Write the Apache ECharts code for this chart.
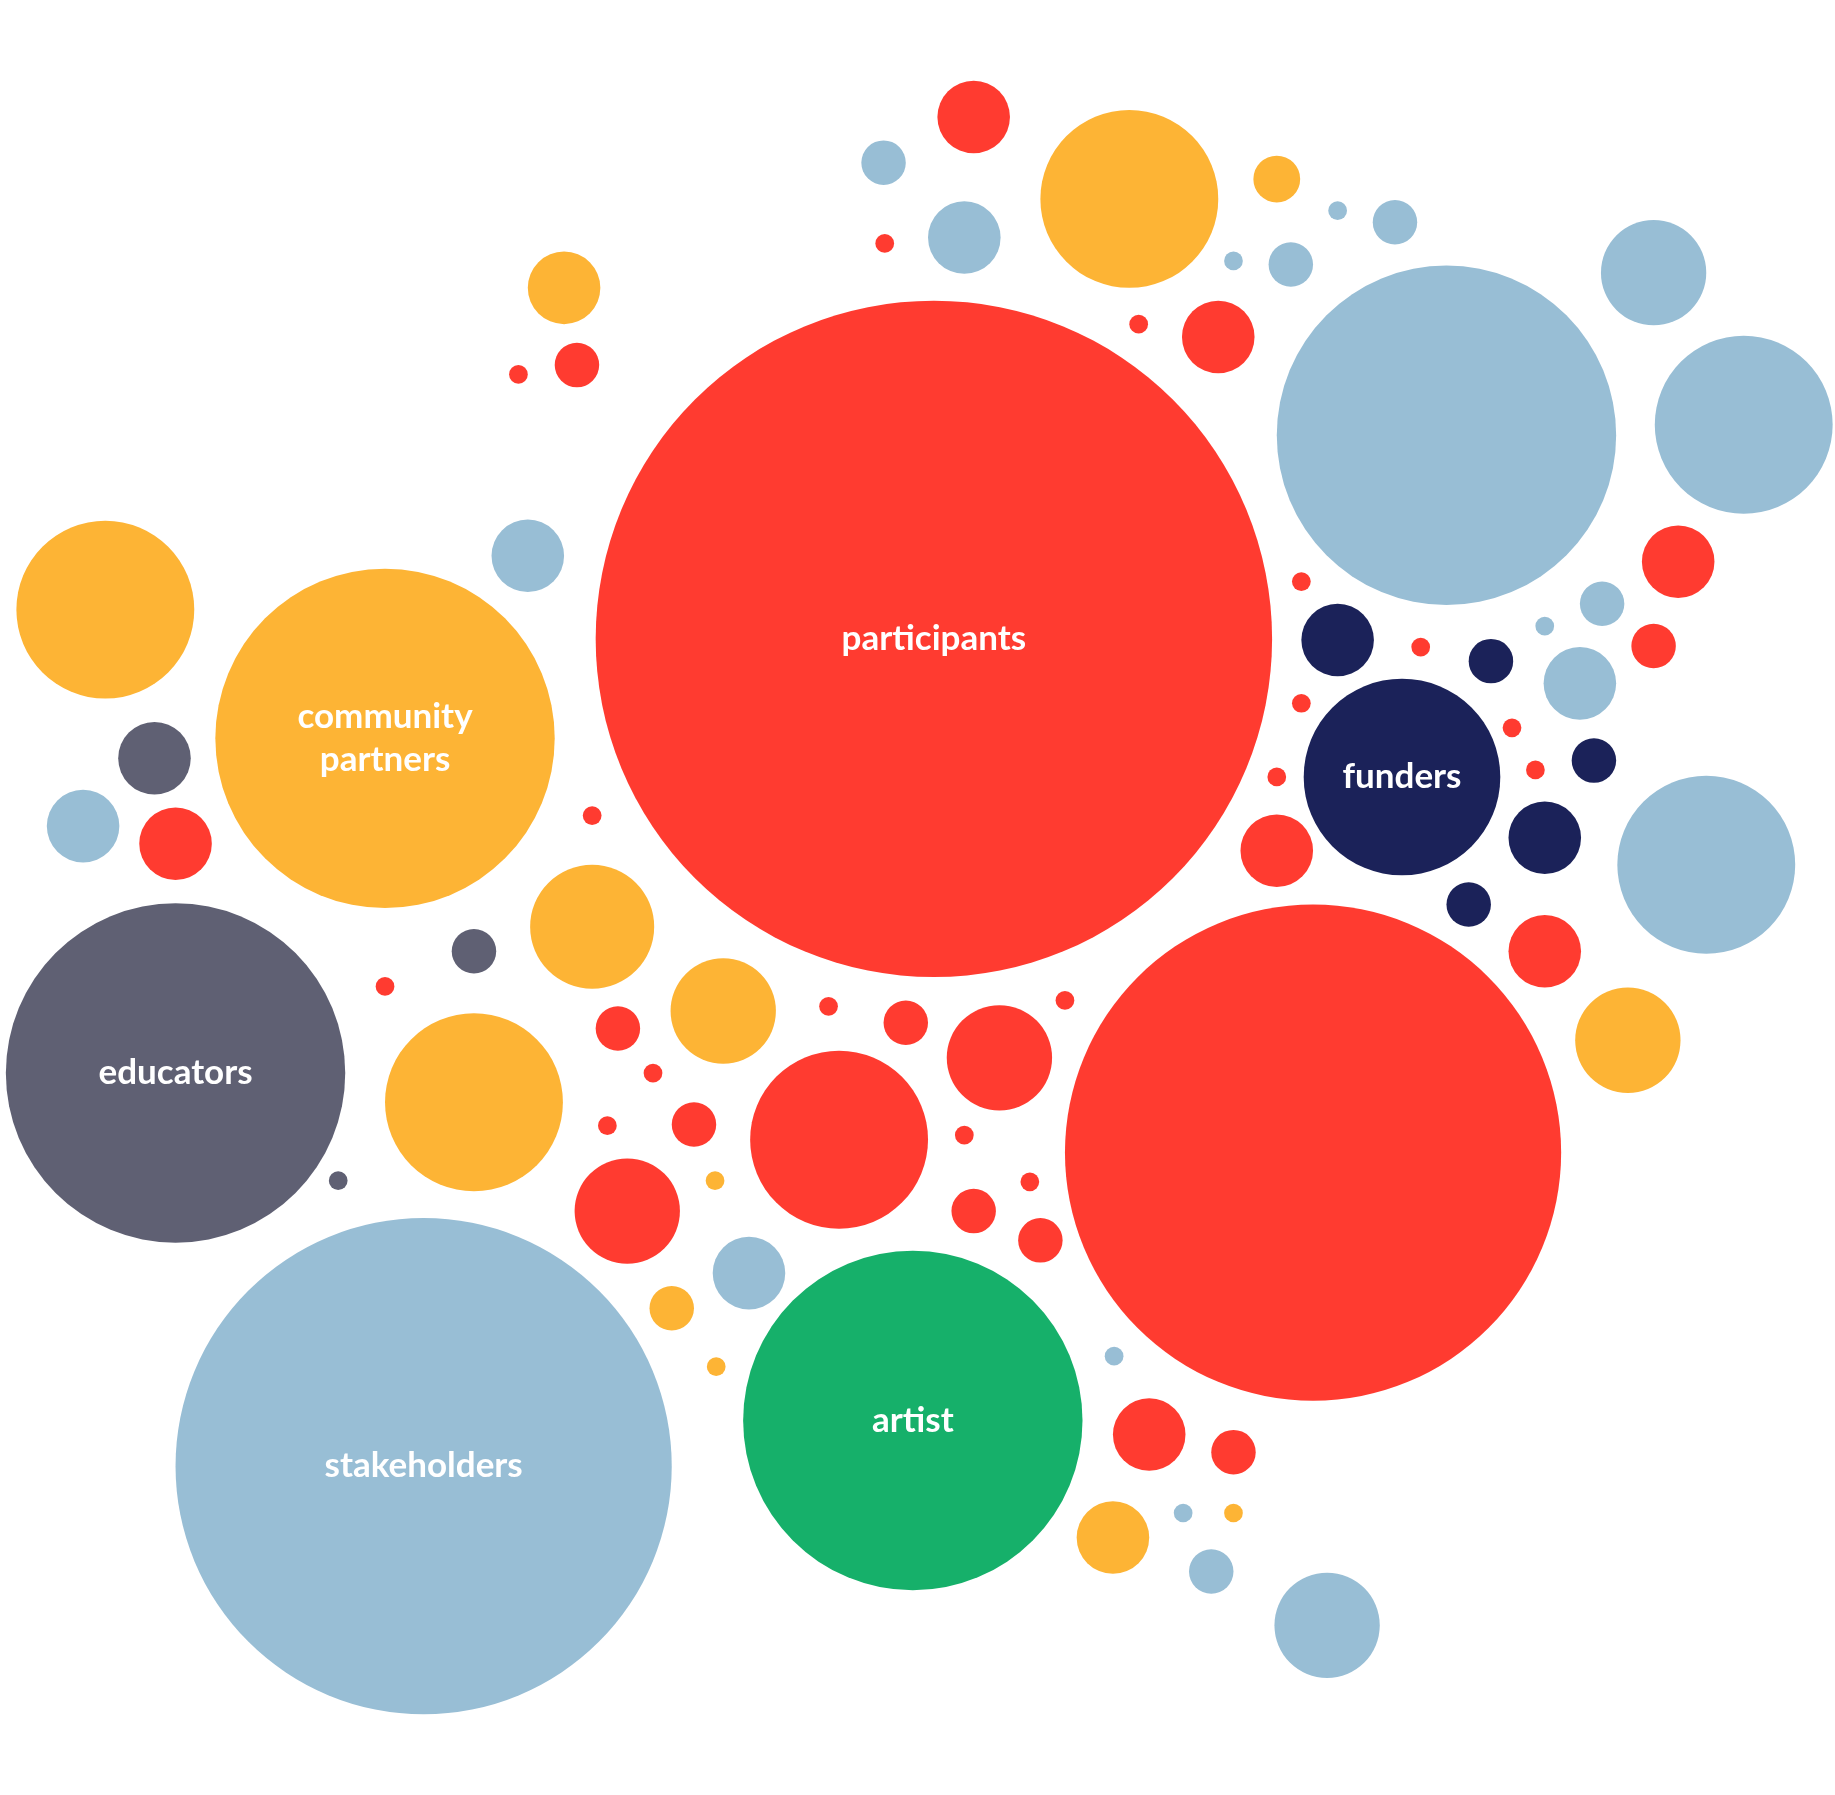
<!DOCTYPE html>
<html><head><meta charset="utf-8">
<script src="https://cdn.jsdelivr.net/npm/echarts@6/dist/echarts.min.js"></script>
<style>html,body{margin:0;padding:0;background:#fff}#c{width:1835px;height:1795px}</style>
</head><body><div id="c"></div>
<script>
const groups = ['red','yellow','blue','navy','gray','green'];
const groupColors = {red:'#FF3B30',yellow:'#FDB435',blue:'#98BED5',navy:'#1B2259',gray:'#5F6073',green:'#16B06A'};
// bubble centre x, centre y, radius (reference units), group, label
const cx = [798,1122,362,150,329,780,1198,1236,1490,1413,1458,965,90,405,717,506,618,854,536,832,755,824,756,1091,1143,1192,1054,1103,973,1041,482,493,443,451,132,71,150,405,329,289,506,528,558,519,593,611,640,574,612,708,774,910,824,832,880,889,952,982,1054,951,1011,1054,1035,1134,1112,1143,1214,1274,1112,1091,1091,1292,1312,1362,1320,1255,1320,1391,1434,1369,1320,1413,1350];
const cy = [546,985,1253,917,631,1214,664,372,363,233,739,170,521,942,974,792,864,904,1035,100,139,203,208,153,180,190,223,226,277,288,246,312,320,475,648,706,721,813,843,1009,697,879,917,962,961,1009,1088,1118,1168,860,874,855,970,1035,1010,1060,1159,1226,1241,1314,1293,1293,1343,1389,497,547,553,565,601,664,727,622,658,650,716,773,813,889,480,516,535,552,584];
const rad = [289,212,212,145,145,145,84,145,76,45,76,76,76,76,76,53,45,45,45,31,19,31,8,20,8,19,8,19,8,31,31,19,8,31,31,31,31,19,8,8,8,19,8,8,19,8,31,19,8,8,19,8,8,19,8,19,8,31,19,31,8,8,19,45,8,31,8,19,8,8,31,8,8,19,31,19,31,45,31,19,8,19,31];
const grp = ['red','red','blue','gray','yellow','green','navy','blue','blue','blue','blue','yellow','yellow','yellow','red','yellow','yellow','red','red','red','blue','blue','red','yellow','blue','blue','blue','blue','red','red','yellow','red','red','blue','gray','blue','red','gray','red','gray','red','red','red','red','red','yellow','blue','yellow','yellow','red','red','red','red','red','red','red','blue','red','red','yellow','blue','yellow','blue','blue','red','navy','red','navy','red','red','red','red','red','navy','navy','navy','red','yellow','red','blue','blue','red','blue'];
const labels = ['participants','','stakeholders','educators','community\npartners','artist','funders'];

const S = 1835/1568;
const series = groups.map(g => ({
  type:'scatter', name:g, symbol:'circle',
  data: cx.map((x,i)=>({value:[x,cy[i],rad[i]], lab:labels[i]||''})).filter((d,i)=>grp[i]===g),
  symbolSize: v => v[2]*2*S,
  itemStyle:{color:groupColors[g], opacity:1},
  label:{show:true, position:'inside', formatter:p=>p.data.lab, color:'#fff',
    fontFamily:'Lato', fontWeight:'bold', fontSize:35, lineHeight:43},
  emphasis:{disabled:true}, animation:false
}));
const chart = echarts.init(document.getElementById('c'));
chart.setOption({
  animation:false,
  grid:{left:0,top:0,width:1835,height:1795},
  xAxis:{type:'value',min:0,max:1568,show:false},
  yAxis:{type:'value',min:0,max:1534,inverse:true,show:false},
  series
});
</script></body></html>
